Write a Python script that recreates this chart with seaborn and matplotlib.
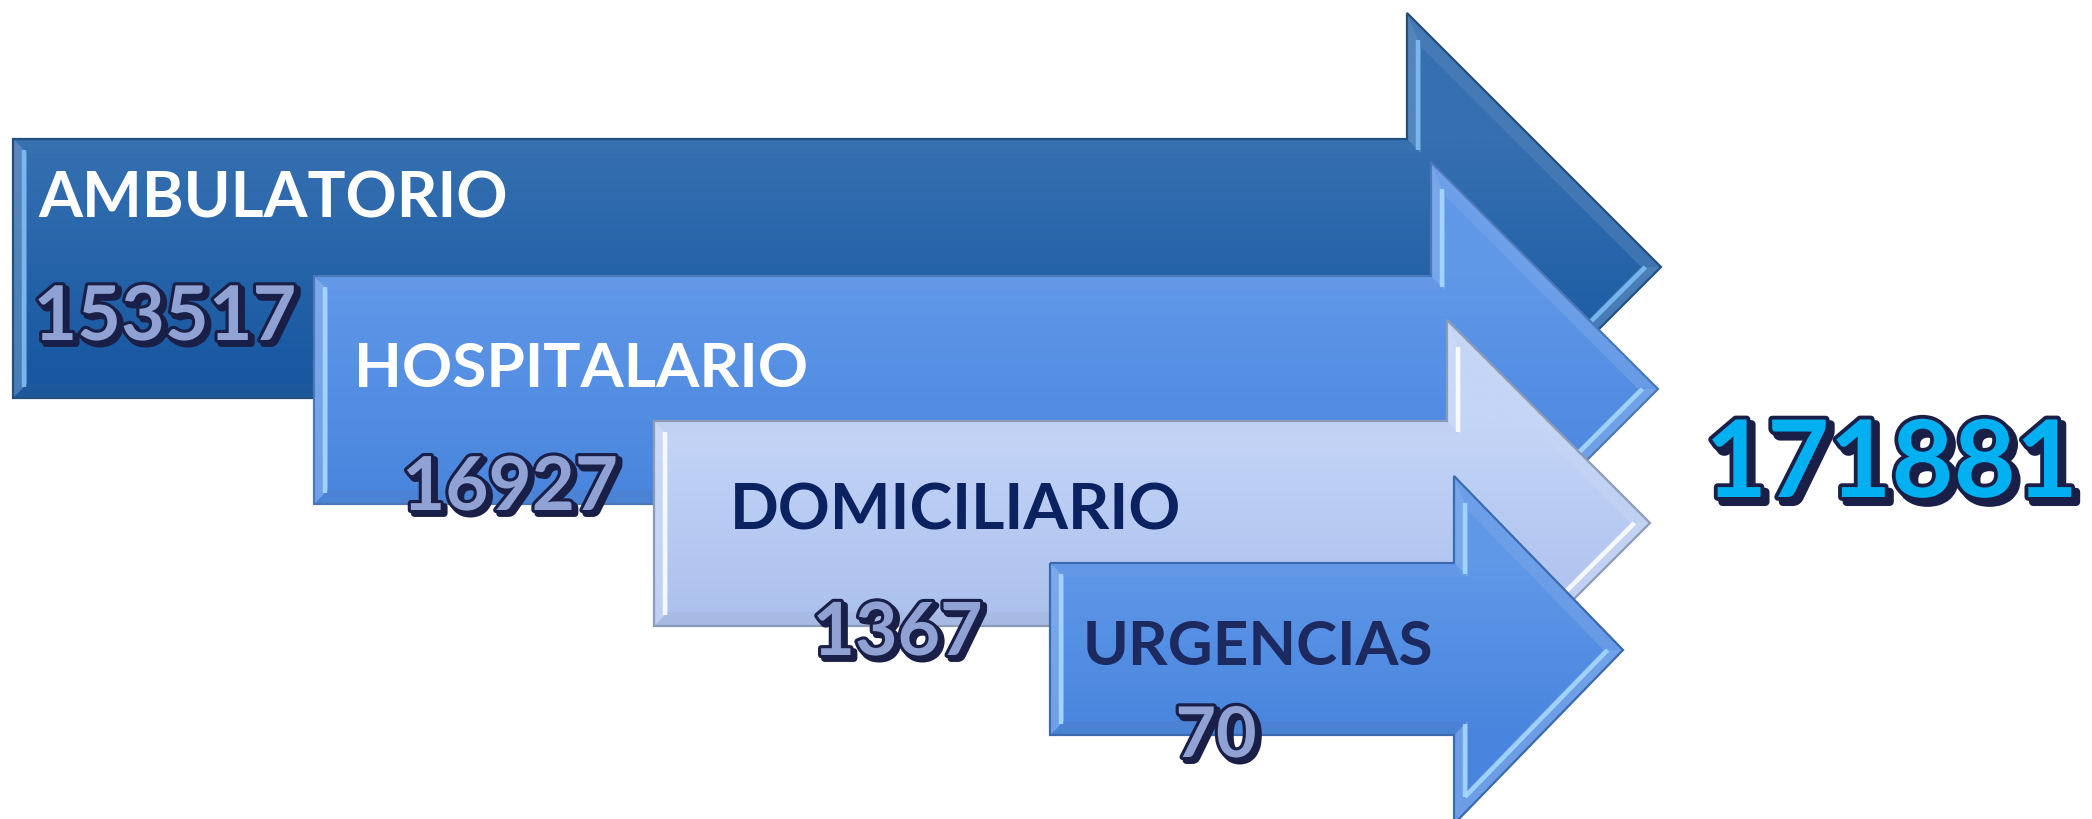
import numpy as np
import matplotlib
matplotlib.use("Agg")
import matplotlib.pyplot as plt
import matplotlib.patheffects as pe
from matplotlib.patches import Polygon
from matplotlib.colors import to_rgb
import seaborn as sns

# ---------------- data ----------------
categories = ["AMBULATORIO", "HOSPITALARIO", "DOMICILIARIO", "URGENCIAS"]
values = [153517, 16927, 1367, 70]
total_value = sum(values)  # 171881

# ---------------- style ----------------
sns.set_theme(style="white")
plt.rcParams["font.family"] = ["Lato", "DejaVu Sans"]

W, H = 2092, 819
fig = plt.figure(figsize=(W / 100, H / 100), dpi=100)
ax = fig.add_axes([0, 0, 1, 1])

# arrow layout (pixel space): left, body top, body bottom, head x, head top, tip x, tip y
arrow_geom = [
    (13, 139, 398, 1407, 13, 1661, 267),
    (314, 276, 504, 1431, 162, 1658, 389),
    (654, 421, 626, 1447, 320, 1650, 523),
    (1050, 563, 735, 1454, 476, 1623, 650),
]
fill_top = ["#3670b1", "#6098e8", "#c4d5f7", "#6098e8"]
fill_bot = ["#1556a0", "#4985de", "#abc0ed", "#4985de"]
edge_col = ["#24507f", "#4a78b8", "#8d9cb5", "#3a6ab0"]
hi_col = ["#7fc0f8", "#a9dcff", "#ffffff", "#a9dcff"]
label_col = ["white", "white", "#0b2260", "#1c2a60"]

label_pos = [(38, 503, 218), (354, 804, 387), (730, 1177, 530), (1083, 1431, 665)]
value_pos = [(42, 288, 340), (409, 611, 510), (818, 977, 655), (1178, 1254, 757)]
total_pos = (1705, 2078, 497)


def inset(pts, d):
    pts = np.asarray(pts, float)
    n = len(pts)
    area = 0.5 * np.sum(pts[:, 0] * np.roll(pts[:, 1], -1) - np.roll(pts[:, 0], -1) * pts[:, 1])
    sgn = 1 if area > 0 else -1
    lines = []
    for i in range(n):
        p0, p1 = pts[i], pts[(i + 1) % n]
        e = p1 - p0
        e = e / np.linalg.norm(e)
        nrm = sgn * np.array([-e[1], e[0]])
        lines.append((p0 + d * nrm, e))
    out = []
    for i in range(n):
        (a, da), (b, db) = lines[i - 1], lines[i]
        M = np.array([da, -db]).T
        t = np.linalg.solve(M, b - a)
        out.append(a + t[0] * da)
    return np.array(out)


def mix(c, f):
    c = np.array(to_rgb(c))
    if f >= 0:
        return tuple(c + (1 - c) * f)
    return tuple(c * (1 + f))


for i, (L, T, B, HX, HT, TX, TY) in enumerate(arrow_geom):
    HB = 2 * TY - HT
    z = 2 + i * 3
    pts = [(L, T), (HX, T), (HX, HT), (TX, TY), (HX, HB), (HX, B), (L, B)]
    poly = Polygon(pts, closed=True, facecolor="none", edgecolor="none", zorder=z)
    ax.add_patch(poly)
    # vertical gradient (seaborn blended palette)
    pal = sns.blend_palette([fill_top[i], fill_bot[i]], n_colors=256)
    ys = np.linspace(HT, HB, 400)
    tt = np.clip((ys - T) / (B - T), 0, 1)
    idx = (tt * 255).astype(int)
    img = np.array([pal[k] for k in idx])[:, None, :].repeat(2, axis=1)
    im = ax.imshow(img, extent=(L, TX, HB, HT), aspect="auto", zorder=z,
                   interpolation="bilinear")
    im.set_clip_path(poly)
    # bevel
    inner = inset(pts, 14)
    base = sns.blend_palette([fill_top[i], fill_bot[i]], 3)[1]
    shades = [0.10, 0.35, 0.22, 0.35, 0.35, -0.10, 0.40]
    for k in range(len(pts)):
        k2 = (k + 1) % len(pts)
        quad = [pts[k], pts[k2], inner[k2], inner[k]]
        ax.add_patch(Polygon(quad, closed=True, facecolor=mix(base, shades[k]),
                             edgecolor="none", alpha=0.5, zorder=z + 0.5))
    # bright highlights on the inner side of vertical / lower-diagonal bevels
    inner2 = inset(pts, 11)
    for k in (1, 3, 4, 6):
        k2 = (k + 1) % len(pts)
        ax.plot([inner2[k][0], inner2[k2][0]], [inner2[k][1], inner2[k2][1]],
                color=hi_col[i], lw=3.2, alpha=0.85, solid_capstyle="butt",
                zorder=z + 0.6)
    ax.add_patch(Polygon(pts, closed=True, facecolor="none", edgecolor=edge_col[i],
                         linewidth=1.6, zorder=z + 1))

ax.set_xlim(0, W)
ax.set_ylim(H, 0)
ax.axis("off")

fig.canvas.draw()
renderer = fig.canvas.get_renderer()


def fit_text(x0, x1, yb, s, fs, grow=1.0, ha="left", **kw):
    t = ax.text(x0, yb, s, fontsize=fs, ha="left", va="baseline",
                fontweight="bold", **kw)
    bb = t.get_window_extent(renderer)
    t.set_fontsize(fs * (x1 - x0) / bb.width * grow)
    if ha == "center":
        t.set_x(0.5 * (x0 + x1))
        t.set_ha("center")
    return t


num_fx = [pe.Stroke(offset=(2.5, -2.5), linewidth=5, foreground="#1a1f48"),
          pe.Stroke(linewidth=4.5, foreground="#1a1f48"), pe.Normal()]

for i, cat in enumerate(categories):
    x0, x1, yb = label_pos[i]
    fit_text(x0, x1, yb, cat, 50, grow=1.01, color=label_col[i], zorder=20)
    x0, x1, yb = value_pos[i]
    fit_text(x0, x1, yb, str(values[i]), 50, grow=1.07, ha="center",
             color="#8fa2d3", zorder=21, path_effects=num_fx)

x0, x1, yb = total_pos
tot_fx = [pe.Stroke(offset=(3.5, -3.5), linewidth=6, foreground="#1a1f48"),
          pe.Stroke(linewidth=5.5, foreground="#1a1f48"), pe.Normal()]
fit_text(x0, x1, yb, str(total_value), 80, grow=1.0, ha="center",
         color="#00b0f0", zorder=21, path_effects=tot_fx)

fig.savefig("out.png", dpi=100, facecolor="white")
